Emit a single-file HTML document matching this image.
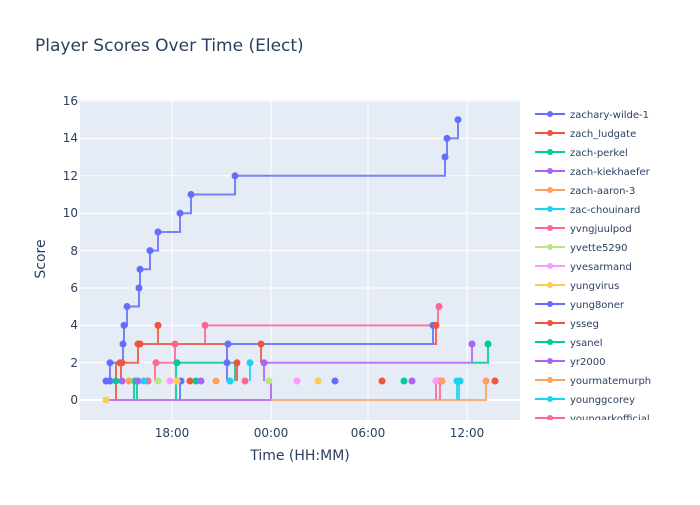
<!DOCTYPE html>
<html><head><meta charset="utf-8"><style>body{margin:0;background:#fff}svg{font-family:"DejaVu Sans","Liberation Sans",sans-serif}</style></head><body>
<svg width="700" height="500" xmlns="http://www.w3.org/2000/svg">
<rect width="700" height="500" fill="#fff"/>
<text x="35" y="51" font-size="17" fill="#2a3f5f">Player Scores Over Time (Elect)</text>
<rect x="80" y="100" width="440" height="320" fill="#e5ecf6"/>
<g stroke="#fff" stroke-width="1">
<line x1="80" x2="520" y1="101" y2="101"/><line x1="80" x2="520" y1="138.4" y2="138.4"/><line x1="80" x2="520" y1="175.8" y2="175.8"/><line x1="80" x2="520" y1="213.2" y2="213.2"/><line x1="80" x2="520" y1="250.6" y2="250.6"/><line x1="80" x2="520" y1="288" y2="288"/><line x1="80" x2="520" y1="325.4" y2="325.4"/><line x1="80" x2="520" y1="362.8" y2="362.8"/>
<line x1="172" x2="172" y1="100" y2="420"/><line x1="271" x2="271" y1="100" y2="420"/><line x1="368" x2="368" y1="100" y2="420"/><line x1="467" x2="467" y1="100" y2="420"/>
</g>
<line x1="80" x2="520" y1="400" y2="400" stroke="#fff" stroke-width="2"/>
<g font-size="12" fill="#2a3f5f" text-anchor="end">
<text x="78" y="105">16</text><text x="78" y="142">14</text><text x="78" y="180">12</text><text x="78" y="217">10</text><text x="78" y="255">8</text><text x="78" y="292">6</text><text x="78" y="329">4</text><text x="78" y="367">2</text><text x="78" y="404">0</text>
</g>
<g font-size="12" fill="#2a3f5f" text-anchor="middle">
<text x="172" y="437">18:00</text><text x="271" y="437">00:00</text><text x="368" y="437">06:00</text><text x="467" y="437">12:00</text>
</g>
<text x="300" y="460" font-size="14" fill="#2a3f5f" text-anchor="middle">Time (HH:MM)</text>
<text x="45" y="259" font-size="14" fill="#2a3f5f" text-anchor="middle" transform="rotate(-90 45 259)">Score</text>
<g fill="none" stroke-width="2" opacity="0.85">
<path d="M106,400H271V381" stroke="#ab63fa"/>
<path d="M271,400H486V381" stroke="#FFA15A"/>
<path d="M264,381V362.8H472V344" stroke="#ab63fa"/>
<path d="M472,362.8H488V344" stroke="#00cc96"/>
<path d="M176,400V362.8H235V381" stroke="#00cc96"/>
<path d="M155,381V362.8H175V344H205V325.4H438V306.5" stroke="#FF6692"/>
<path d="M116,400V362.8H121V381M122,362.8H138V344H436V325.4" stroke="#EF553B"/>
<path d="M158,344V325.4" stroke="#EF553B"/>
<path d="M227,381V344H433V325.4" stroke="#636efa"/>
<path d="M180,381V400" stroke="#636efa"/>
<path d="M250,362.8V381" stroke="#19d3f3"/>
<path d="M237,362.8V381M261,362.8V344" stroke="#EF553B"/>
<path d="M106,381H110V362.8H123V344H124V325.4H127V306.5H139V288H140V269.3H150V250.6H158V232H180V213.2H191V194.5H235V175.8H445V157H447V138.4H458V119.7" stroke="#636efa"/>
<path d="M436,400V381M440,400V381" stroke="#FF6692"/>
<path d="M457,400V381M459,400V381" stroke="#19d3f3"/>
<path d="M134,400V381M137,400V381" stroke="#00cc96"/>
</g>
<g>
<circle cx="106" cy="400" r="3.5" fill="#FECB52"/>
<g fill="#636efa"><circle cx="106" cy="381" r="3.5"/><circle cx="110" cy="362.8" r="3.5"/><circle cx="123" cy="344" r="3.5"/><circle cx="124" cy="325.4" r="3.5"/><circle cx="127" cy="306.5" r="3.5"/><circle cx="139" cy="288" r="3.5"/><circle cx="140" cy="269.3" r="3.5"/><circle cx="150" cy="250.6" r="3.5"/><circle cx="158" cy="232" r="3.5"/><circle cx="180" cy="213.2" r="3.5"/><circle cx="191" cy="194.5" r="3.5"/><circle cx="235" cy="175.8" r="3.5"/><circle cx="445" cy="157" r="3.5"/><circle cx="447" cy="138.4" r="3.5"/><circle cx="458" cy="119.7" r="3.5"/><circle cx="228" cy="344" r="3.5"/><circle cx="433" cy="325.4" r="3.5"/><circle cx="181" cy="381" r="3.5"/><circle cx="335" cy="381" r="3.5"/><circle cx="227" cy="362.8" r="3.5"/><circle cx="110" cy="381" r="3.5"/></g>
<g fill="#EF553B"><circle cx="120" cy="362.8" r="3.5"/><circle cx="122" cy="362.8" r="3.5"/><circle cx="138" cy="344" r="3.5"/><circle cx="140" cy="344" r="3.5"/><circle cx="158" cy="325.4" r="3.5"/><circle cx="436" cy="325.4" r="3.5"/><circle cx="190" cy="381" r="3.5"/><circle cx="237" cy="362.8" r="3.5"/><circle cx="261" cy="344" r="3.5"/><circle cx="382" cy="381" r="3.5"/><circle cx="495" cy="381" r="3.5"/></g>
<g fill="#FF6692"><circle cx="156" cy="362.8" r="3.5"/><circle cx="175" cy="344" r="3.5"/><circle cx="205" cy="325.4" r="3.5"/><circle cx="439" cy="306.5" r="3.5"/><circle cx="148" cy="381" r="3.5"/><circle cx="245" cy="381" r="3.5"/><circle cx="440" cy="381" r="3.5"/></g>
<g fill="#00cc96"><circle cx="116" cy="381" r="3.5"/><circle cx="177" cy="362.8" r="3.5"/><circle cx="196" cy="381" r="3.5"/><circle cx="404" cy="381" r="3.5"/><circle cx="488" cy="344" r="3.5"/><circle cx="135" cy="381" r="3.5"/></g>
<g fill="#ab63fa"><circle cx="122" cy="381" r="3.5"/><circle cx="138" cy="381" r="3.5"/><circle cx="201" cy="381" r="3.5"/><circle cx="264" cy="362.8" r="3.5"/><circle cx="412" cy="381" r="3.5"/><circle cx="472" cy="344" r="3.5"/></g>
<g fill="#FFA15A"><circle cx="129" cy="381" r="3.5"/><circle cx="216" cy="381" r="3.5"/><circle cx="442" cy="381" r="3.5"/><circle cx="486" cy="381" r="3.5"/></g>
<g fill="#19d3f3"><circle cx="144" cy="381" r="3.5"/><circle cx="230" cy="381" r="3.5"/><circle cx="250" cy="362.8" r="3.5"/><circle cx="457" cy="381" r="3.5"/><circle cx="460" cy="381" r="3.5"/></g>
<g fill="#B6E880"><circle cx="158" cy="381" r="3.5"/><circle cx="269" cy="381" r="3.5"/></g>
<g fill="#FF97FF"><circle cx="170" cy="381" r="3.5"/><circle cx="297" cy="381" r="3.5"/><circle cx="436" cy="381" r="3.5"/></g>
<g fill="#FECB52"><circle cx="177" cy="381" r="3.5"/><circle cx="318" cy="381" r="3.5"/></g>
</g>
<svg x="530" y="100" width="170" height="320">
<g font-size="10" fill="#2a3f5f" stroke-width="2">
<g transform="translate(0,14)"><line x1="5" x2="35" stroke="#636efa"/><circle cx="20" r="3" fill="#636efa"/><text x="40" y="4">zachary-wilde-1</text></g>
<g transform="translate(0,33)"><line x1="5" x2="35" stroke="#EF553B"/><circle cx="20" r="3" fill="#EF553B"/><text x="40" y="4">zach_ludgate</text></g>
<g transform="translate(0,52)"><line x1="5" x2="35" stroke="#00cc96"/><circle cx="20" r="3" fill="#00cc96"/><text x="40" y="4">zach-perkel</text></g>
<g transform="translate(0,71)"><line x1="5" x2="35" stroke="#ab63fa"/><circle cx="20" r="3" fill="#ab63fa"/><text x="40" y="4">zach-kiekhaefer</text></g>
<g transform="translate(0,90)"><line x1="5" x2="35" stroke="#FFA15A"/><circle cx="20" r="3" fill="#FFA15A"/><text x="40" y="4">zach-aaron-3</text></g>
<g transform="translate(0,109)"><line x1="5" x2="35" stroke="#19d3f3"/><circle cx="20" r="3" fill="#19d3f3"/><text x="40" y="4">zac-chouinard</text></g>
<g transform="translate(0,128)"><line x1="5" x2="35" stroke="#FF6692"/><circle cx="20" r="3" fill="#FF6692"/><text x="40" y="4">yvngjuulpod</text></g>
<g transform="translate(0,147)"><line x1="5" x2="35" stroke="#B6E880"/><circle cx="20" r="3" fill="#B6E880"/><text x="40" y="4">yvette5290</text></g>
<g transform="translate(0,166)"><line x1="5" x2="35" stroke="#FF97FF"/><circle cx="20" r="3" fill="#FF97FF"/><text x="40" y="4">yvesarmand</text></g>
<g transform="translate(0,185)"><line x1="5" x2="35" stroke="#FECB52"/><circle cx="20" r="3" fill="#FECB52"/><text x="40" y="4">yungvirus</text></g>
<g transform="translate(0,204)"><line x1="5" x2="35" stroke="#636efa"/><circle cx="20" r="3" fill="#636efa"/><text x="40" y="4">yung8oner</text></g>
<g transform="translate(0,223)"><line x1="5" x2="35" stroke="#EF553B"/><circle cx="20" r="3" fill="#EF553B"/><text x="40" y="4">ysseg</text></g>
<g transform="translate(0,242)"><line x1="5" x2="35" stroke="#00cc96"/><circle cx="20" r="3" fill="#00cc96"/><text x="40" y="4">ysanel</text></g>
<g transform="translate(0,261)"><line x1="5" x2="35" stroke="#ab63fa"/><circle cx="20" r="3" fill="#ab63fa"/><text x="40" y="4">yr2000</text></g>
<g transform="translate(0,280)"><line x1="5" x2="35" stroke="#FFA15A"/><circle cx="20" r="3" fill="#FFA15A"/><text x="40" y="4">yourmatemurph</text></g>
<g transform="translate(0,299)"><line x1="5" x2="35" stroke="#19d3f3"/><circle cx="20" r="3" fill="#19d3f3"/><text x="40" y="4">younggcorey</text></g>
<g transform="translate(0,318)"><line x1="5" x2="35" stroke="#FF6692"/><circle cx="20" r="3" fill="#FF6692"/><text x="40" y="4">youngarkofficial</text></g>
</g>
</svg>
</svg>
</body></html>
